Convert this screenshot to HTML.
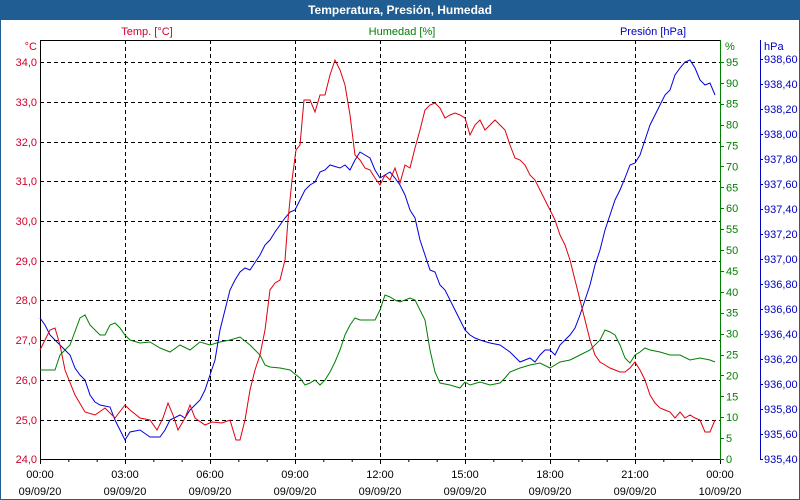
<!DOCTYPE html>
<html><head><meta charset="utf-8"><style>
html,body{margin:0;padding:0;background:#fff}
svg{display:block;font-family:"Liberation Sans",sans-serif;font-size:11px}
</style></head><body>
<svg width="800" height="500" viewBox="0 0 800 500" xmlns="http://www.w3.org/2000/svg">
<rect x="0" y="0" width="800" height="500" fill="#fff"/>
<rect x="0.5" y="0.5" width="799" height="499" fill="none" stroke="#1f5d92"/>
<rect x="0" y="0" width="800" height="20" fill="#1f5d92"/>
<text x="400" y="14" text-anchor="middle" fill="#fff" font-weight="bold" font-size="12">Temperatura, Presión, Humedad</text>
<text x="147" y="35" text-anchor="middle" fill="#d0002a">Temp. [°C]</text>
<text x="402" y="35" text-anchor="middle" fill="#008000">Humedad [%]</text>
<text x="653" y="35" text-anchor="middle" fill="#0000c0">Presión [hPa]</text>
<text x="37" y="50" text-anchor="end" fill="#d0002a">°C</text>
<text x="725" y="50" fill="#008000">%</text>
<text x="764" y="50" fill="#0000c0">hPa</text>
<g stroke="#000" stroke-dasharray="4,3" stroke-width="1">
<path d="M40 62.5H720M40 102.5H720M40 142.5H720M40 181.5H720M40 221.5H720M40 261.5H720M40 300.5H720M40 340.5H720M40 380.5H720M40 420.5H720"/>
<path d="M125.5 40V459M210.5 40V459M295.5 40V459M380.5 40V459M465.5 40V459M550.5 40V459M635.5 40V459"/>
</g>
<path d="M40.5 40.5H720.5M40.5 40V459.5H721" stroke="#000" fill="none"/>
<g stroke="#000"><path d="M40.5 459V464M68.8 459V462M97.2 459V462M125.5 459V464M153.8 459V462M182.2 459V462M210.5 459V464M238.8 459V462M267.2 459V462M295.5 459V464M323.8 459V462M352.2 459V462M380.5 459V464M408.8 459V462M437.2 459V462M465.5 459V464M493.8 459V462M522.2 459V462M550.5 459V464M578.8 459V462M607.2 459V462M635.5 459V464M663.8 459V462M692.2 459V462M720.5 459V464"/></g>
<g fill="#d0002a" text-anchor="end">
<text x="37" y="66">34,0</text><text x="37" y="106">33,0</text><text x="37" y="146">32,0</text><text x="37" y="185">31,0</text><text x="37" y="225">30,0</text><text x="37" y="265">29,0</text><text x="37" y="304">28,0</text><text x="37" y="344">27,0</text><text x="37" y="384">26,0</text><text x="37" y="424">25,0</text><text x="37" y="463">24,0</text>
</g>
<line x1="720.5" y1="40" x2="720.5" y2="460" stroke="#008000"/>
<g fill="#008000" id="hum"></g>
<line x1="760.5" y1="40" x2="760.5" y2="460" stroke="#0000c0"/>
<g fill="#0000c0" id="pres"></g>
<g fill="#000" text-anchor="middle" id="xl"></g>
<polyline fill="none" stroke="#008000" points="40,370 55,370 60,355 70,345 80,318 85,315 90,325 100,335 105,335 110,325 115,323 120,328 125,335 130,340 140,343 150,342 160,348 170,352 180,345 190,350 200,342 210,345 220,342 230,340 240,337 250,345 260,355 265,365 270,367 280,368 290,370 300,378 305,385 310,383 315,380 320,385 325,380 330,372 335,362 340,350 345,335 350,325 355,318 360,320 370,320 375,320 380,310 385,295 390,297 395,300 400,302 405,300 410,298 415,300 420,310 425,320 430,350 435,372 440,383 450,385 460,388 465,382 470,385 480,382 490,385 500,383 505,378 510,372 520,368 530,365 540,363 550,368 560,362 570,360 580,355 590,350 600,340 605,330 610,332 615,335 620,345 625,358 630,363 635,355 640,352 645,348 650,350 660,352 670,355 680,355 690,360 700,358 710,360 715,362"/>
<polyline fill="none" stroke="#0000e0" points="40,318 45,325 50,335 55,340 60,345 65,350 70,355 75,368 80,375 85,380 90,395 95,402 100,405 110,407 115,420 120,430 125,440 130,432 140,430 150,437 160,437 165,430 170,420 180,415 185,418 190,410 195,405 200,400 205,390 210,375 215,360 220,330 225,310 230,290 235,280 240,272 245,268 250,270 260,255 265,245 270,240 275,232 280,225 285,218 290,212 295,210 300,200 305,190 310,185 315,182 320,172 325,170 330,165 340,168 345,165 350,170 355,160 360,152 365,155 370,158 375,170 380,178 385,175 390,172 395,178 400,185 405,195 410,210 415,218 420,240 425,255 430,270 435,272 440,285 445,290 450,300 455,310 460,320 465,330 470,335 475,338 480,340 490,343 500,345 510,352 520,362 525,360 530,358 535,362 540,355 545,350 550,350 555,355 560,345 565,340 570,335 575,328 580,315 585,300 590,285 595,265 600,250 605,230 610,215 615,200 620,190 625,178 630,165 635,163 640,155 645,140 650,125 655,115 660,105 665,95 670,90 675,75 680,68 685,62 690,60 695,68 700,80 705,85 710,83 715,95"/>
<polyline fill="none" stroke="#e00010" points="40,350 50,330 55,328 60,345 65,370 75,395 85,412 95,415 105,408 115,418 125,405 130,410 140,418 150,420 157,430 163,418 168,403 173,415 178,430 185,418 190,405 195,418 205,425 212,422 222,423 230,420 236,440 240,440 245,420 250,390 255,370 260,355 265,330 270,290 275,283 280,280 285,260 288,220 292,180 296,150 300,145 304,100 310,100 315,112 320,95 325,95 330,75 335,60 340,70 345,85 350,115 355,155 360,160 365,168 370,170 375,178 380,185 385,175 390,180 395,168 400,183 405,165 410,168 415,148 420,130 425,110 430,105 435,103 440,108 445,118 450,115 455,113 460,115 465,118 470,135 475,125 480,120 485,130 490,125 495,120 500,125 505,130 510,145 515,158 520,160 525,165 530,175 535,180 540,190 545,200 550,210 555,220 560,235 565,245 570,260 575,280 580,300 585,320 590,340 595,355 600,362 605,365 610,368 615,370 620,372 625,372 630,368 635,362 640,370 645,380 650,395 655,403 660,408 665,410 670,412 675,418 680,412 685,418 690,415 695,418 700,420 705,432 710,432 715,420"/>
<script>
var ns="http://www.w3.org/2000/svg";
function t(g,x,y,s){var e=document.createElementNS(ns,"text");e.setAttribute("x",x);e.setAttribute("y",y);e.textContent=s;g.appendChild(e);}
function l(x1,y1,x2,y2,c){var e=document.createElementNS(ns,"line");e.setAttribute("x1",x1);e.setAttribute("y1",y1);e.setAttribute("x2",x2);e.setAttribute("y2",y2);e.setAttribute("stroke",c);document.querySelector("svg").appendChild(e);}
var h=document.getElementById("hum");
for(var v=0;v<=95;v+=5){var y=459-v*4.18;t(h,726,y+4,String(v));l(720,Math.round(y)+.5,724,Math.round(y)+.5,"#008000");}
var p=document.getElementById("pres");
for(var i=0;i<=16;i++){var val=(935.40+i*0.2).toFixed(2).replace(".",",");var y=459-i*25;t(p,764,y+4,val);l(760,y+.5,763,y+.5,"#0000c0");}
var xl=document.getElementById("xl");
var tm=["00:00","03:00","06:00","09:00","12:00","15:00","18:00","21:00","00:00"];
for(var i=0;i<9;i++){var x=40+i*85;t(xl,x,478,tm[i]);t(xl,x,495,i==8?"10/09/20":"09/09/20");}
</script>
</svg>
</body></html>
